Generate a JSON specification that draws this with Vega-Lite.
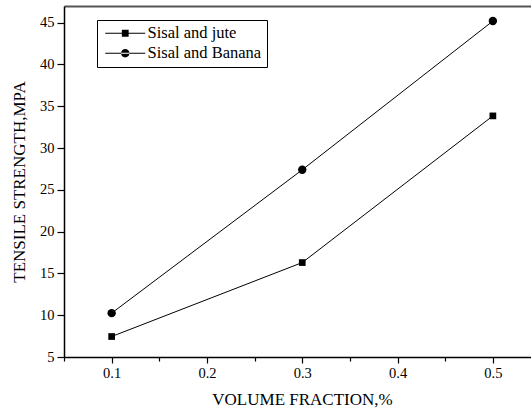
{
  "$schema": "https://vega.github.io/schema/vega-lite/v6.json",
  "width": 467,
  "height": 351,
  "autosize": {"type": "none"},
  "padding": {"left": 64, "top": 6, "right": 0, "bottom": 55},
  "background": "white",
  "config": {
    "font": "Liberation Serif",
    "view": {"stroke": null},
    "axis": {
      "grid": false,
      "domainColor": "black",
      "domainWidth": 1.5,
      "tickColor": "black",
      "tickWidth": 1.2,
      "labelColor": "black",
      "labelFont": "Liberation Serif",
      "labelFontSize": 14.5,
      "titleFont": "Liberation Serif",
      "titleFontSize": 17,
      "titleFontWeight": "normal",
      "titleColor": "black"
    },
    "legend": {"labelFont": "Liberation Serif"}
  },
  "data": {
    "values": [
      {"vf": 0.1, "ts": 7.45, "series": "Sisal and jute"},
      {"vf": 0.3, "ts": 16.3, "series": "Sisal and jute"},
      {"vf": 0.5, "ts": 33.85, "series": "Sisal and jute"},
      {"vf": 0.1, "ts": 10.25, "series": "Sisal and Banana"},
      {"vf": 0.3, "ts": 27.4, "series": "Sisal and Banana"},
      {"vf": 0.5, "ts": 45.2, "series": "Sisal and Banana"}
    ]
  },
  "layer": [
    {
      "mark": {"type": "line", "color": "black", "strokeWidth": 1},
      "encoding": {
        "x": {
          "field": "vf", "type": "quantitative",
          "scale": {"domain": [0.05, 0.54], "nice": false, "zero": false},
          "axis": {
            "title": "VOLUME FRACTION,%",
            "values": [0.05, 0.1, 0.15, 0.2, 0.25, 0.3, 0.35, 0.4, 0.45, 0.5],
            "format": ".1f",
            "labelExpr": "abs(datum.value*10 - round(datum.value*10)) < 0.001 && datum.value > 0.07 ? datum.label : ''",
            "tickSize": {"condition": {"test": "abs(datum.value*10 - round(datum.value*10)) < 0.001", "value": 6}, "value": 4},
            "labelPadding": 3,
            "titlePadding": 12,
            "titleX": 238
          }
        },
        "y": {
          "field": "ts", "type": "quantitative",
          "scale": {"domain": [5, 47], "nice": false, "zero": false},
          "axis": {
            "title": "TENSILE STRENGTH,MPA",
            "values": [5, 7.5, 10, 12.5, 15, 17.5, 20, 22.5, 25, 27.5, 30, 32.5, 35, 37.5, 40, 42.5, 45],
            "labelExpr": "datum.value % 5 === 0 ? datum.label : ''",
            "tickSize": {"condition": {"test": "datum.value % 5 !== 0", "value": 4}, "value": 7},
            "labelPadding": 3,
            "titlePadding": 11
          }
        },
        "detail": {"field": "series"}
      }
    },
    {
      "transform": [{"filter": "datum.series === 'Sisal and jute'"}],
      "mark": {"type": "point", "filled": true, "color": "black", "opacity": 1, "size": 45, "shape": "square"},
      "encoding": {
        "x": {"field": "vf", "type": "quantitative", "axis": null},
        "y": {"field": "ts", "type": "quantitative"}
      }
    },
    {
      "transform": [{"filter": "datum.series === 'Sisal and Banana'"}],
      "mark": {"type": "point", "filled": true, "color": "black", "opacity": 1, "size": 70, "shape": "circle"},
      "encoding": {
        "x": {"field": "vf", "type": "quantitative", "axis": null},
        "y": {"field": "ts", "type": "quantitative"}
      }
    },
    {
      "mark": {"type": "point", "filled": true, "color": "black", "opacity": 0, "size": 64},
      "encoding": {
        "x": {
          "field": "vf", "type": "quantitative",
          "axis": {"orient": "top", "title": null, "labels": false, "ticks": false, "domainColor": "#555", "domainWidth": 2}
        },
        "y": {"field": "ts", "type": "quantitative"},
        "shape": {
          "field": "series", "type": "nominal",
          "scale": {
            "domain": ["Sisal and jute", "Sisal and Banana"],
            "range": [
              "M-5,-0.13H5V0.13H-5Z M-0.85,-0.85H0.85V0.85H-0.85Z",
              "M-5,-0.13H5V0.13H-5Z M-1.05,0A1.05,1.05 0 1,0 1.05,0A1.05,1.05 0 1,0 -1.05,0Z"
            ]
          },
          "legend": {
            "title": null,
            "orient": "none",
            "legendX": 33,
            "legendY": 14,
            "strokeColor": "black",
            "fillColor": "white",
            "padding": 5,
            "symbolSize": 64,
            "symbolOpacity": 1,
            "symbolFillColor": "black",
            "symbolStrokeWidth": 0,
            "symbolOffset": 15,
            "labelOffset": 14,
            "labelFont": "Liberation Serif",
            "labelFontSize": 16.5,
            "labelColor": "black",
            "rowPadding": 3
          }
        }
      }
    }
  ],
  "resolve": {"axis": {"x": "independent"}}
}
